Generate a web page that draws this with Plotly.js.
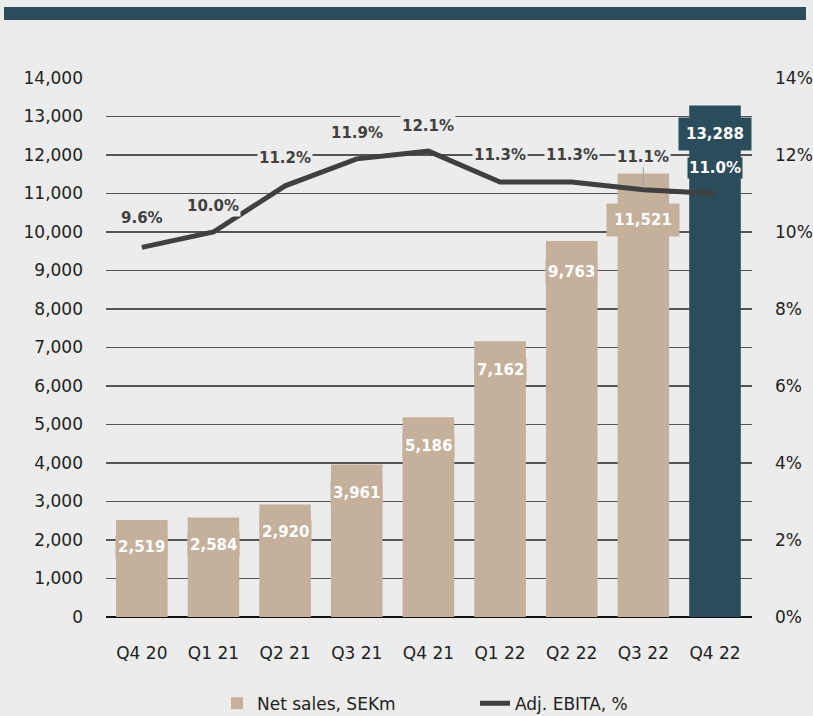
<!DOCTYPE html>
<html>
<head>
<meta charset="utf-8">
<script src="https://cdn.plot.ly/plotly-3.0.1.min.js"></script>
<style>html,body{margin:0;padding:0;background:#ececec;}#chart{width:813px;height:716px;}</style>
</head>
<body>
<div id="chart"></div>
<script>
var categories = ["Q4 20","Q1 21","Q2 21","Q3 21","Q4 21","Q1 22","Q2 22","Q3 22","Q4 22"];
var netSales = [2519,2584,2920,3961,5186,7162,9763,11521,13288];
var adjEbita = [9.6,10.0,11.2,11.9,12.1,11.3,11.3,11.1,11.0];
var netSalesLabels = ["2,519","2,584","2,920","3,961","5,186","7,162","9,763","11,521","13,288"];
var ebitaLabels = ["9.6%","10.0%","11.2%","11.9%","12.1%","11.3%","11.3%","11.1%","11.0%"];

var TAN = "#c5b09b", DARK = "#2b4d5b", BG = "#ececec", LINE = "#404040";
var FONT = "DejaVu Sans, sans-serif";

var barColors = categories.map(function(c,i){ return i === categories.length-1 ? DARK : TAN; });

var traces = [
  {type:"bar", name:"Net sales, SEKm", x:categories, y:netSales,
   marker:{color:barColors}, hoverinfo:"skip"},
  {type:"scatter", mode:"lines", name:"Adj. EBITA, %", x:categories, y:adjEbita, yaxis:"y2",
   line:{color:LINE, width:5}, hoverinfo:"skip"}
];

var annotations = [];
var barShift = [-27,-27,-27,-28,-29,-29,-31,-47,-29];
netSales.forEach(function(v,i){
  var last = i === netSales.length-1;
  annotations.push({x:categories[i], y:v, xref:"x", yref:"y", text:netSalesLabels[i],
    showarrow:false, yshift:barShift[i], bgcolor: last ? DARK : TAN, borderpad: (i>=7?7:2),
    font:{family:FONT, size:15, color:"#ffffff", weight:700}});
});
var lineAy = [-29,-26,-28,-26,-25,-27,-27,-33,-26];
adjEbita.forEach(function(v,i){
  var last = i === adjEbita.length-1;
  annotations.push({x:categories[i], y:v, xref:"x", yref:"y2", text:ebitaLabels[i],
    showarrow:true, arrowhead:0, arrowwidth:1, standoff:2,
    arrowcolor: i===7 ? "#a0a0a0" : "rgba(0,0,0,0)", ax:0, ay:lineAy[i],
    bgcolor: last ? DARK : BG, borderpad:1,
    font:{family:FONT, size:15, color: last ? "#ffffff" : LINE, weight:700}});
});

var layout = {
  width:813, height:716,
  paper_bgcolor:BG, plot_bgcolor:BG,
  margin:{l:106, r:61, t:78, b:99, autoexpand:false},
  font:{family:FONT, size:17, color:"#222"},
  bargap:0.28,
  showlegend:true,
  legend:{orientation:"h", x:(217-106)/646, xanchor:"left", y:-0.161, yanchor:"middle",
    entrywidth:213, entrywidthmode:"pixels",
    font:{family:FONT, size:17, color:"#222"}, bgcolor:"rgba(0,0,0,0)"},
  xaxis:{type:"category", showgrid:false, ticks:"", ticklabelstandoff:24,
    showline:false, zeroline:false, tickfont:{family:FONT, size:17, color:"#222"}},
  yaxis:{range:[0,14000], dtick:1000, tickformat:",d", showgrid:true, gridcolor:"#555", gridwidth:1.5,
    zeroline:true, zerolinecolor:"#111", zerolinewidth:2, ticks:"", ticklabelstandoff:22,
    showline:false, tickfont:{family:FONT, size:17, color:"#222"}, fixedrange:true},
  yaxis2:{range:[0,14], dtick:2, ticksuffix:"%", overlaying:"y", side:"right", showgrid:false,
    zeroline:false, ticks:"", ticklabelstandoff:22, showline:false,
    tickfont:{family:FONT, size:17, color:"#222"}},
  shapes:[{type:"rect", xref:"paper", yref:"paper",
    x0:(4-106)/646, x1:(806-106)/646, y0:(617-20)/539, y1:(617-7)/539,
    fillcolor:DARK, line:{width:0}, layer:"above"}],
  annotations:annotations
};

Plotly.newPlot("chart", traces, layout, {displayModeBar:false, staticPlot:true});
</script>
</body>
</html>
